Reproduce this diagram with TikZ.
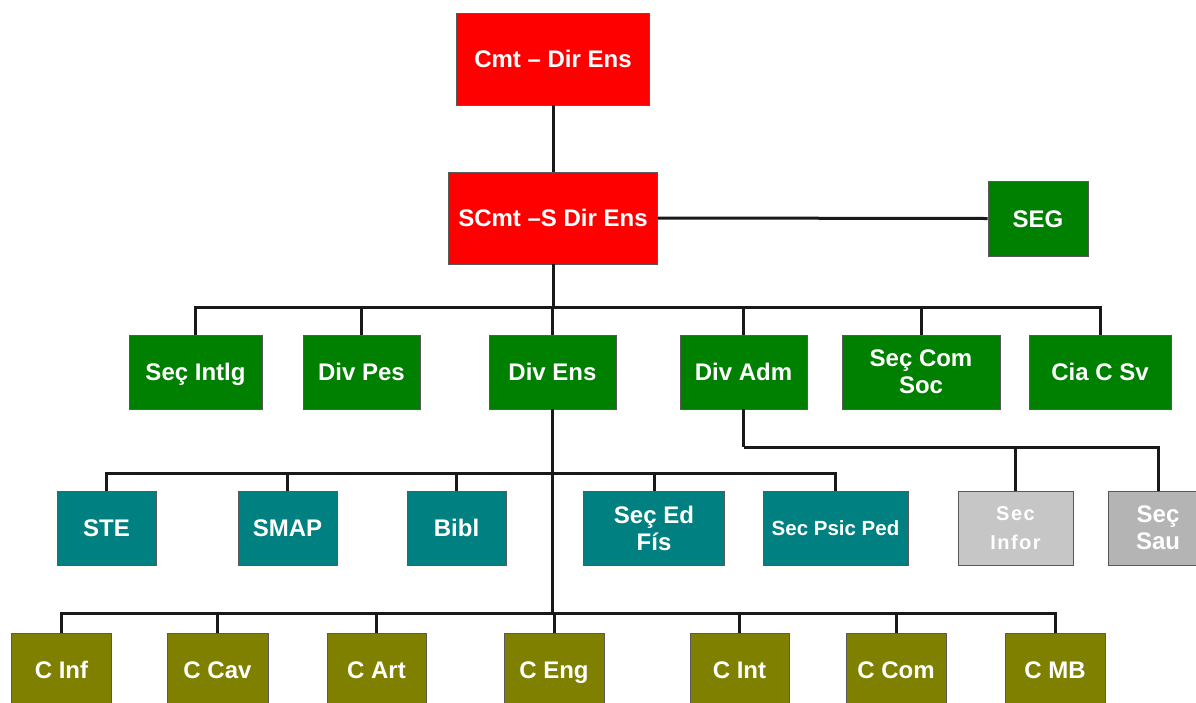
\documentclass[tikz,border=0pt]{standalone}
\usepackage{fontspec}
\setmainfont{Liberation Sans}
\definecolor{cred}{HTML}{FF0000}
\definecolor{cgreen}{HTML}{008000}
\definecolor{cteal}{HTML}{008080}
\definecolor{colive}{HTML}{808000}
\definecolor{cgrayA}{HTML}{C6C6C6}
\definecolor{cgrayB}{HTML}{B4B4B4}
\begin{document}
\begin{tikzpicture}[x=1pt,y=-1pt,
  box/.style={rectangle, draw=black!65, line width=0.8pt, inner sep=0pt,
    text=white, font=\fontsize{24}{27}\selectfont\bfseries, align=center},
  one/.style={text height=17pt, text depth=0pt},
  redbox/.style={box, fill=cred, minimum height=92pt},
  greenbox/.style={box, fill=cgreen, minimum height=74pt},
  tealbox/.style={box, fill=cteal, minimum height=74pt},
  olivebox/.style={box, one, fill=colive, minimum height=74pt},
  conn/.style={line width=3pt, draw=black!90}
]
\useasboundingbox (0,0) rectangle (1196,702);
\clip (0,0) rectangle (1196,702);
\fill[white] (0,0) rectangle (1196,702);

% top
\node[redbox, one, minimum width=193pt] (cmt) at (553,59) {Cmt -- Dir Ens};
\node[redbox, one, minimum width=209pt] (scmt) at (553,218) {SCmt --S Dir Ens};
\node[greenbox, one, minimum width=100pt, minimum height=75pt] (seg) at (1038,218.5) {SEG};

% level 2
\node[greenbox, one, minimum width=133pt] (intlg) at (195.5,372) {Seç Intlg};
\node[greenbox, one, minimum width=117pt] (pes) at (361.5,372) {Div Pes};
\node[greenbox, one, minimum width=127pt] (ens) at (552.5,372) {Div Ens};
\node[greenbox, one, minimum width=127pt] (adm) at (743.5,372) {Div Adm};
\node[greenbox, minimum width=158pt] (com) at (921,372) {Seç Com\\Soc};
\node[greenbox, one, minimum width=142pt] (cia) at (1100,372) {Cia C Sv};

% level 3
\node[tealbox, one, minimum width=99pt] (ste) at (106.5,528) {STE};
\node[tealbox, one, minimum width=99pt] (smap) at (287.5,528) {SMAP};
\node[tealbox, one, minimum width=99pt] (bibl) at (456.5,528) {Bibl};
\node[tealbox, minimum width=141pt] (edfis) at (654,528) {Seç Ed\\Fís};
\node[tealbox, minimum width=145pt, font=\fontsize{20.5}{24}\selectfont\bfseries, text height=15pt, text depth=0pt] (psic) at (835.5,528) {Sec Psic Ped};
\node[box, fill=cgrayA, minimum width=115pt, minimum height=74pt, font=\fontsize{20}{29}\selectfont\bfseries] (infor) at (1015.5,528) {S\kern1.5pt e\kern1.5pt c\\I\kern1.5pt n\kern1.5pt f\kern1.5pt o\kern1.5pt r};
\node[box, fill=cgrayB, minimum width=100pt, minimum height=74pt] (sau) at (1158,528) {Seç\\Sau};

% level 4
\node[olivebox, minimum width=100pt] (cinf) at (61.5,670) {C Inf};
\node[olivebox, minimum width=101pt] (ccav) at (217.5,670) {C Cav};
\node[olivebox, minimum width=99pt] (cart) at (376.5,670) {C Art};
\node[olivebox, minimum width=100pt] (ceng) at (554,670) {C Eng};
\node[olivebox, minimum width=99pt] (cint) at (739.5,670) {C Int};
\node[olivebox, minimum width=100pt] (ccom) at (896,670) {C Com};
\node[olivebox, minimum width=100pt] (cmb) at (1055,670) {C MB};

% bus coordinates
\coordinate (b1) at (553,307);
\coordinate (b2) at (552.5,473);
\coordinate (b3) at (552.5,613);
\coordinate (b4) at (743.5,447);

% connectors
\draw[conn] (cmt.south) -- (scmt.north);
\draw[conn] (scmt.east) -- (seg.west);
\draw[conn] (scmt.south) -- (b1);
\foreach \n in {intlg,pes,ens,adm,com,cia} \draw[conn] (\n.north) |- (b1);
\draw[conn] (ens.south) -- (b3);
\foreach \n in {ste,smap,bibl,edfis,psic} \draw[conn] (\n.north) |- (b2);
\foreach \n in {cinf,ccav,cart,ceng,cint,ccom,cmb} \draw[conn] (\n.north) |- (b3);
\draw[conn] (adm.south) -- (b4);
\foreach \n in {infor,sau} \draw[conn] (\n.north) |- (b4);
\end{tikzpicture}
\end{document}
